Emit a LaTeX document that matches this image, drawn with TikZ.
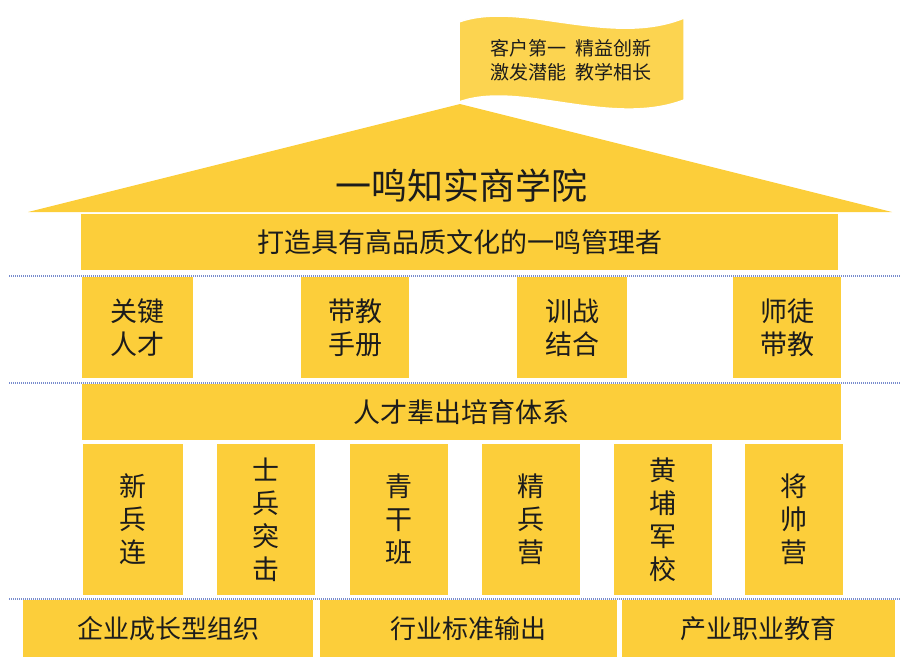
\documentclass[tikz,border=0pt]{standalone}
\usepackage{fontspec}
\setmainfont{Noto Sans CJK SC}
\definecolor{gold}{RGB}{252,206,58}
\definecolor{flaggold}{RGB}{252,212,80}
\definecolor{dotblue}{RGB}{120,140,205}
\definecolor{ink}{RGB}{28,28,28}
\begin{document}
\begin{tikzpicture}[x=1pt,y=-1pt,
box/.style={
% The shape:
rectangle,
fill=gold,
inner sep=0pt,
text=ink,
align=center
},
band/.style={box,minimum height=56pt,font=\fontsize{27}{32}\selectfont},
tag/.style={box,minimum height=101pt,font=\fontsize{27}{33}\selectfont},
pillar/.style={box,minimum width=98pt,minimum height=151pt,font=\fontsize{27}{33}\selectfont},
base/.style={box,minimum height=57pt,font=\fontsize{26}{30}\selectfont},
divider/.style={draw=dotblue,line width=1.5pt,dash pattern=on 1pt off 1pt}
]
\useasboundingbox (0,0) rectangle (901,657);
% Roof and flag:
\fill[gold] (28,212) -- (460,104) -- (892,212) -- cycle;
\filldraw[fill=flaggold,draw=white,line width=1.5pt] (459,22) .. controls (520,0) and (610,48) .. (684,18) -- (684,100) .. controls (610,128) and (520,80) .. (459,102) -- cycle;
\node (motto) [text=ink,align=center,font=\fontsize{19}{24}\selectfont] at (571,60) {客户第一\hspace{0.45em}精益创新\\激发潜能\hspace{0.45em}教学相长};
\node (title) [text=ink,font=\fontsize{36}{40}\selectfont] at (461,186) {一鸣知实商学院};
% First row:
\node (aim) [band,minimum width=757pt] at (459.5,242) {打造具有高品质文化的一鸣管理者};
\node (talent) [tag,minimum width=111pt] at (137.5,327.5) {关键\\人才};
\node (manual) [tag,minimum width=108pt] at (355,327.5) {带教\\手册};
\node (combat) [tag,minimum width=110pt] at (572,327.5) {训战\\结合};
\node (mentor) [tag,minimum width=108pt] at (787,327.5) {师徒\\带教};
% Second row:
\node (system) [band,minimum width=759pt] at (461.5,412) {人才辈出培育体系};
\node (recruit) [pillar,minimum width=100pt] at (133,519.5) {新\\兵\\连};
\node (soldier) [pillar] at (266,519.5) {士\\兵\\突\\击};
\node (youth) [pillar] at (399,519.5) {青\\干\\班};
\node (elite) [pillar] at (531,519.5) {精\\兵\\营};
\node (academy) [pillar] at (663,519.5) {黄\\埔\\军\\校};
\node (general) [pillar] at (794,519.5) {将\\帅\\营};
% Base:
\node (growth) [base,minimum width=290pt] at (168,628.5) {企业成长型组织};
\node (standard) [base,minimum width=297pt] at (468.5,628.5) {行业标准输出};
\node (career) [base,minimum width=273pt] at (758.5,628.5) {产业职业教育};
% Dotted lines:
\foreach \y in {276,383,599}
  \draw [divider] (9,\y) -- (901,\y);
\end{tikzpicture}
\end{document}
